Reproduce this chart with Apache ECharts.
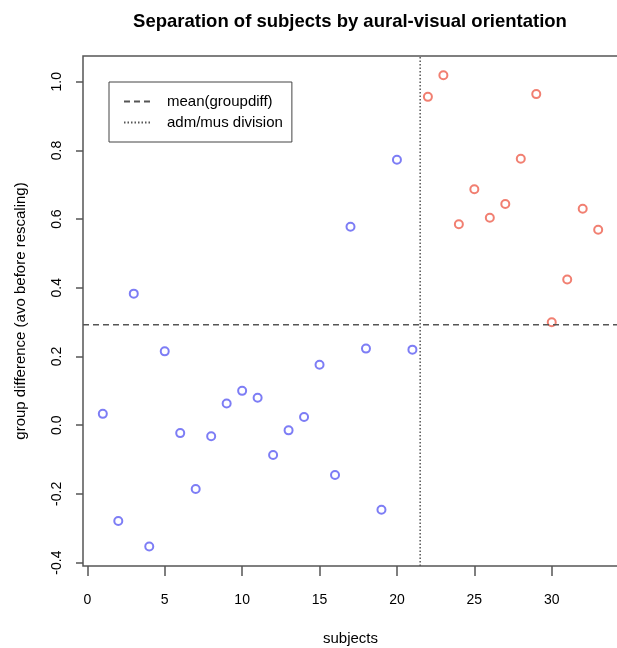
<!DOCTYPE html>
<html>
<head>
<meta charset="utf-8">
<title>Separation of subjects by aural-visual orientation</title>
<script src="https://cdn.jsdelivr.net/npm/echarts@6/dist/echarts.min.js"></script>
<style>
  html, body { margin: 0; padding: 0; background: #fff; }
  #chart { width: 617px; height: 648px; }
</style>
</head>
<body>
<div id="chart"></div>
<script>
  // subject index and group difference
  const subjects = [1, 2, 3, 4, 5, 6, 7, 8, 9, 10, 11, 12, 13, 14, 15, 16, 17,
    18, 19, 20, 21, 22, 23, 24, 25, 26, 27, 28, 29, 30, 31, 32, 33];
  const groupDiff = [0.033, -0.279, 0.383, -0.353, 0.215, -0.023, -0.186, -0.032,
    0.063, 0.100, 0.080, -0.087, -0.015, 0.024, 0.176, -0.145, 0.578, 0.223,
    -0.246, 0.773, 0.220, 0.956, 1.019, 0.585, 0.687, 0.604, 0.644, 0.776,
    0.964, 0.300, 0.424, 0.630, 0.569];
  const divisionX = 21.5; // adm/mus division
  const xTicks = [0, 5, 10, 15, 20, 25, 30];
  const yTicks = [-0.4, -0.2, 0.0, 0.2, 0.4, 0.6, 0.8, 1.0];
  const xRange = [-0.28, 34.28];
  const yRange = [-0.41, 1.075];

  const meanDiff = groupDiff.reduce((a, b) => a + b, 0) / groupDiff.length;

  const admPoints = [];
  const musPoints = [];
  subjects.forEach((s, i) => {
    if (s < divisionX) admPoints.push([s, groupDiff[i]]);
    else musPoints.push([s, groupDiff[i]]);
  });

  const FONT = 'Liberation Sans, Arial, Helvetica, sans-serif';
  const chart = echarts.init(document.getElementById('chart'), null, { renderer: 'canvas' });

  const option = {
    animation: false,
    backgroundColor: '#fff',
    textStyle: { fontFamily: FONT },
    title: {
      text: 'Separation of subjects by aural-visual orientation',
      left: 345,
      textAlign: 'center',
      top: 7,
      textStyle: { fontFamily: FONT, fontSize: 18.5, fontWeight: 'bold', color: '#000' }
    },
    grid: {
      left: 83,
      top: 56,
      width: 535,
      height: 510,
      outerBoundsMode: 'none',
      show: true,
      borderColor: '#555',
      borderWidth: 1.5,
      backgroundColor: 'transparent'
    },
    legend: {
      left: 109,
      top: 82,
      orient: 'vertical',
      itemWidth: 27,
      itemHeight: 14,
      itemGap: 6,
      padding: [12, 9, 12, 14],
      borderColor: '#444',
      borderWidth: 1,
      selectedMode: false,
      itemStyle: { opacity: 0 },
      textStyle: { fontFamily: FONT, fontSize: 15, color: '#000', padding: [0, 0, 0, 11] },
      data: ['mean(groupdiff)', 'adm/mus division']
    },
    xAxis: {
      type: 'value',
      min: xRange[0],
      max: xRange[1],
      name: 'subjects',
      nameLocation: 'middle',
      nameGap: 65,
      nameTextStyle: { fontFamily: FONT, fontSize: 15, color: '#000' },
      axisLine: { show: false, onZero: false },
      splitLine: { show: false },
      axisTick: {
        show: true,
        length: 10,
        customValues: xTicks,
        lineStyle: { color: '#555', width: 1.5 }
      },
      axisLabel: {
        customValues: xTicks,
        margin: 27,
        fontFamily: FONT,
        fontSize: 14,
        color: '#000'
      }
    },
    yAxis: {
      type: 'value',
      min: yRange[0],
      max: yRange[1],
      name: 'group difference (avo before rescaling)',
      nameLocation: 'middle',
      nameGap: 55,
      nameTextStyle: { fontFamily: FONT, fontSize: 15, color: '#000' },
      axisLine: { show: false, onZero: false },
      splitLine: { show: false },
      axisTick: {
        show: true,
        length: 7,
        customValues: yTicks,
        lineStyle: { color: '#555', width: 1.5 }
      },
      axisLabel: {
        customValues: yTicks,
        rotate: 90,
        margin: 19,
        fontFamily: FONT,
        fontSize: 14,
        color: '#000',
        formatter: (v) => v.toFixed(1)
      }
    },
    series: [
      {
        name: 'adm',
        type: 'scatter',
        symbol: 'emptyCircle',
        symbolSize: 8,
        itemStyle: { color: '#5c5cf2', borderWidth: 1.5 },
        data: admPoints
      },
      {
        name: 'mus',
        type: 'scatter',
        symbol: 'emptyCircle',
        symbolSize: 8,
        itemStyle: { color: '#ee5f4e', borderWidth: 1.5 },
        data: musPoints
      },
      {
        name: 'mean(groupdiff)',
        type: 'line',
        symbol: 'none',
        color: '#555',
        lineStyle: { color: '#555', width: 1.5, type: [6, 4] },
        data: [[xRange[0], meanDiff], [xRange[1], meanDiff]]
      },
      {
        name: 'adm/mus division',
        type: 'line',
        symbol: 'none',
        color: '#555',
        lineStyle: { color: '#555', width: 1.5, type: [1.5, 2] },
        data: [[divisionX, yRange[0]], [divisionX, yRange[1]]]
      }
    ]
  };

  chart.setOption(option);
</script>
</body>
</html>
